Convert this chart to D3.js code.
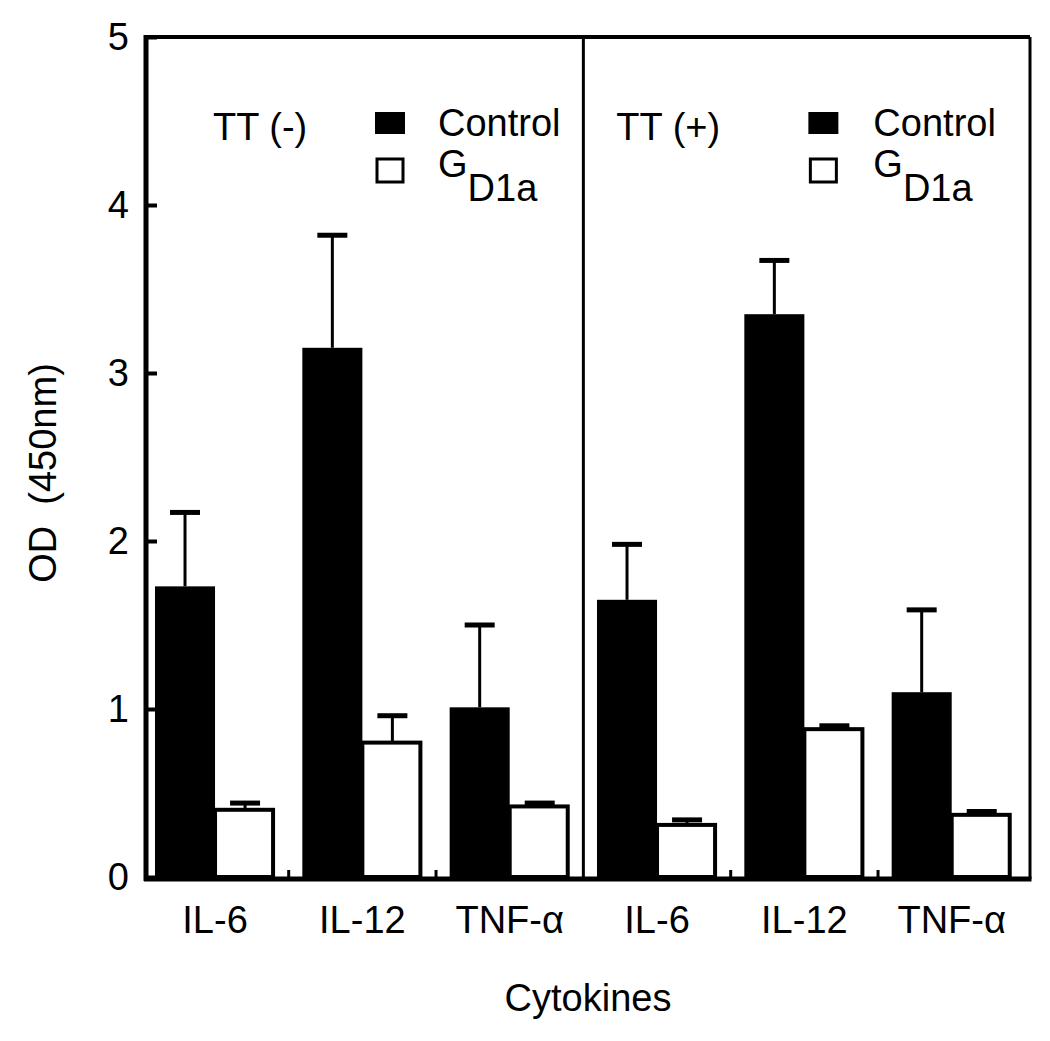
<!DOCTYPE html>
<meta charset="utf-8">

<!-- Load d3.js -->
<script src="https://d3js.org/d3.v7.min.js"></script>

<style>
  body { margin: 0; background: #fff; }
  text {
    font-family: "Liberation Sans", Arial, sans-serif;
    font-size: 38px;
    fill: #000;
  }
</style>

<div id="mydata"></div>
<script>

  // data
  var panels = ["TT (-)", "TT (+)"];
  var cytokines = ["IL-6", "IL-12", "TNF-\u03b1"];
  var series = ["Control", "GD1a"];
  var controlMean = [1.73, 3.15, 1.01, 1.65, 3.35, 1.10];
  var controlErr  = [0.44, 0.67, 0.49, 0.33, 0.32, 0.49];
  var gd1aMean    = [0.40, 0.80, 0.42, 0.31, 0.88, 0.37];
  var gd1aErr     = [0.04, 0.16, 0.02, 0.03, 0.02, 0.02];
  var yTicks = [0, 1, 2, 3, 4, 5];

  // one key per group of bars
  var keys = [];
  panels.forEach(function(p) {
    cytokines.forEach(function(c) { keys.push(p + "|" + c); });
  });

  var rows = [];
  keys.forEach(function(k, i) {
    rows.push({key: k, s: "Control", v: controlMean[i], e: controlErr[i]});
    rows.push({key: k, s: "GD1a", v: gd1aMean[i], e: gd1aErr[i]});
  });

  // plot area (no "top" here, window.top is taken)
  var plotL = 146, plotR = 1030, plotT = 37, plotB = 877;

  var svg = d3.select("#mydata")
    .append("svg")
      .attr("width", 1050)
      .attr("height", 1041);

  var x = d3.scaleBand()
    .domain(keys)
    .range([plotL, plotR])
    .paddingInner(0.185)
    .paddingOuter(0.0925)
    .align(0.33);

  var xs = d3.scaleBand()
    .domain(series)
    .range([0, x.bandwidth()]);

  var y = d3.scaleLinear()
    .domain([0, 5])
    .range([plotB, plotT]);

  // bars
  svg.selectAll("rect.bar")
    .data(rows)
    .enter()
    .append("rect")
      .attr("class", "bar")
      .attr("x", function(d) { return x(d.key) + xs(d.s); })
      .attr("y", function(d) { return y(d.v); })
      .attr("width", function(d) { return d.s == "GD1a" ? xs.bandwidth() - 2 : xs.bandwidth(); })
      .attr("height", function(d) { return y(0) - y(d.v); })
      .attr("fill", function(d) { return d.s == "Control" ? "#000" : "#fff"; })
      .attr("stroke", "#000")
      .attr("stroke-width", function(d) { return d.s == "Control" ? 0 : 4; });

  // error bars (upper only)
  var eb = svg.selectAll("g.err")
    .data(rows)
    .enter()
    .append("g")
      .attr("class", "err")
      .attr("transform", function(d) {
        return "translate(" + (x(d.key) + xs(d.s) + xs.bandwidth() / 2) + ",0)";
      });
  eb.append("line")
    .attr("y1", function(d) { return y(d.v); })
    .attr("y2", function(d) { return y(d.v + d.e); })
    .attr("stroke", "#000")
    .attr("stroke-width", 3);
  eb.append("line")
    .attr("x1", -15)
    .attr("x2", 15)
    .attr("y1", function(d) { return y(d.v + d.e); })
    .attr("y2", function(d) { return y(d.v + d.e); })
    .attr("stroke", "#000")
    .attr("stroke-width", 5);

  // frame
  var divider = (x(keys[2]) + x.bandwidth() + x(keys[3])) / 2;
  svg.append("line").attr("x1", plotL - 2).attr("x2", plotR).attr("y1", plotT).attr("y2", plotT)
    .attr("stroke", "#000").attr("stroke-width", 4);
  svg.append("line").attr("x1", plotR).attr("x2", plotR).attr("y1", plotT).attr("y2", plotB + 2)
    .attr("stroke", "#000").attr("stroke-width", 3);
  svg.append("line").attr("x1", divider).attr("x2", divider).attr("y1", plotT).attr("y2", plotB + 2)
    .attr("stroke", "#000").attr("stroke-width", 3);
  svg.append("line").attr("x1", plotL - 2).attr("x2", plotR + 1.5).attr("y1", plotB + 2).attr("y2", plotB + 2)
    .attr("stroke", "#000").attr("stroke-width", 5);
  svg.append("line").attr("x1", plotL).attr("x2", plotL).attr("y1", plotT - 2).attr("y2", plotB + 4)
    .attr("stroke", "#000").attr("stroke-width", 5);

  // small ticks between groups on the bottom axis
  var mids = [];
  for (var i = 1; i < keys.length; i++) {
    if (i == cytokines.length) continue;
    mids.push((x(keys[i - 1]) + x.bandwidth() + x(keys[i])) / 2);
  }
  svg.selectAll("line.gap")
    .data(mids)
    .enter()
    .append("line")
      .attr("class", "gap")
      .attr("x1", function(d) { return d; })
      .attr("x2", function(d) { return d; })
      .attr("y1", plotB)
      .attr("y2", plotB - 7)
      .attr("stroke", "#000")
      .attr("stroke-width", 3);

  // Y axis, ticks pointing inward
  var yAxis = svg.append("g")
    .attr("transform", "translate(" + plotL + ",0)")
    .call(d3.axisLeft(y).tickValues(yTicks).tickSize(-11).tickPadding(17).tickFormat(d3.format("d")));
  yAxis.select(".domain").remove();
  yAxis.selectAll(".tick line").attr("stroke-width", 4);
  yAxis.selectAll("text").attr("font-size", 38).attr("font-family", null);

  // X axis labels
  var xAxis = svg.append("g")
    .attr("transform", "translate(0," + (plotB + 2) + ")")
    .call(d3.axisBottom(x).tickSize(0).tickPadding(27)
      .tickFormat(function(k) { return k.split("|")[1]; }));
  xAxis.select(".domain").remove();
  xAxis.selectAll("text").attr("font-size", 37).attr("font-family", null);

  // axis titles
  svg.append("text")
    .attr("x", (plotL + plotR) / 2)
    .attr("y", 1011)
    .attr("text-anchor", "middle")
    .text("Cytokines");

  svg.append("text")
    .attr("transform", "translate(56," + 473 + ") rotate(-90)")
    .attr("text-anchor", "middle")
    .attr("font-size", 38)
    .style("white-space", "pre")
    .text("OD  (450nm)");

  // legends, one per panel
  var legendPos = [
    {title: plotL + 67, box: plotL + 229, label: plotL + 292},
    {title: divider + 33, box: divider + 225, label: divider + 290}
  ];
  panels.forEach(function(p, i) {
    var g = svg.append("g");
    var L = legendPos[i];
    g.append("text").attr("x", L.title).attr("y", 140).text(p);
    g.append("rect").attr("x", L.box).attr("y", 112).attr("width", 30).attr("height", 22)
      .attr("fill", "#000");
    g.append("text").attr("x", L.label).attr("y", 136).text(series[0]);
    g.append("rect").attr("x", L.box + 2).attr("y", 159).attr("width", 26).attr("height", 23)
      .attr("fill", "#fff").attr("stroke", "#000").attr("stroke-width", 3);
    var t = g.append("text").attr("x", L.label).attr("y", 177);
    t.append("tspan").text("G");
    t.append("tspan").attr("dy", 24).text("D1a");
  });

</script>
